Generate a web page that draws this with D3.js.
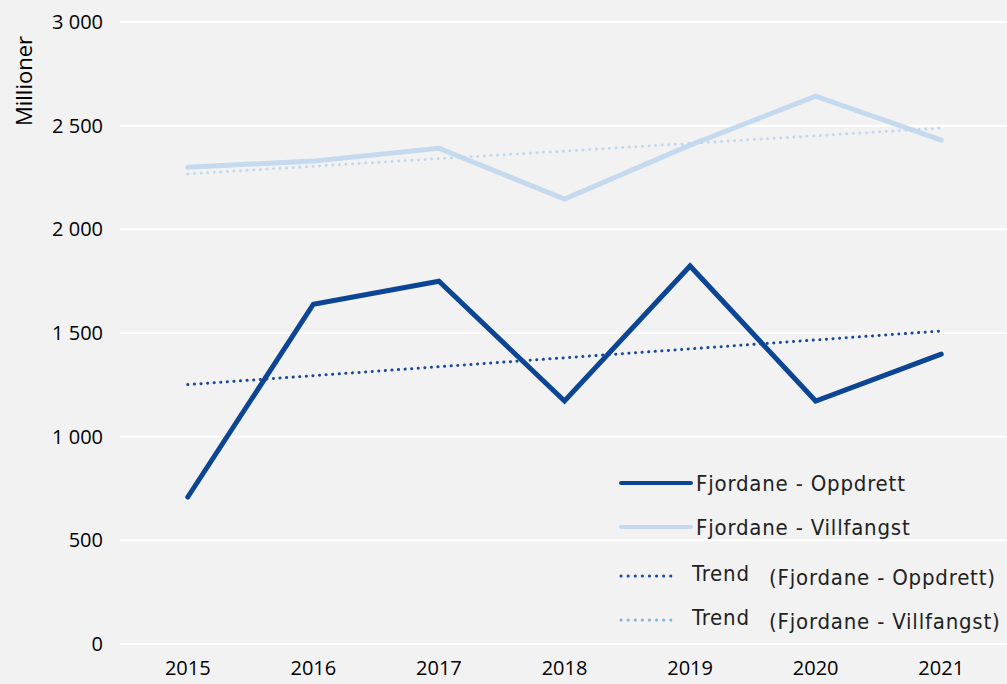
<!DOCTYPE html>
<html>
<head>
<meta charset="utf-8">
<script src="https://cdn.jsdelivr.net/npm/d3@7"></script>
<style>
  body { margin: 0; background: #f2f2f2; }
  #Chart { display: block; background: #f2f2f2; }
  .tick text { font-family: "Open Sans", "Noto Sans", sans-serif; font-size: 20px; fill: #000; }
  .legend text { font-family: "DejaVu Sans", sans-serif; font-stretch: condensed; font-size: 22px; letter-spacing: 0.8px; fill: #222; }
</style>
</head>
<body>
<svg id="Chart"></svg>
<script>
// data
let years = ["2015", "2016", "2017", "2018", "2019", "2020", "2021"];
let oppdrett = [709, 1639, 1750, 1172, 1823, 1172, 1398];
let villfangst = [2300, 2329, 2391, 2146, 2406, 2642, 2430];
let yTicks = [0, 500, 1000, 1500, 2000, 2500, 3000];
let seriesNames = ["Fjordane - Oppdrett", "Fjordane - Villfangst"];

function getConfig() {
  let width = 1007, height = 684;
  let margin = { top: 22, bottom: 40, left: 125, right: 3 };
  let container = d3.select("#Chart").attr("width", width).attr("height", height);
  return { width, height, margin, container };
}

// least squares trend, the way a spreadsheet trendline works
function trendOf(values) {
  let n = values.length;
  let xm = (n - 1) / 2;
  let ym = d3.mean(values);
  let sxy = d3.sum(values, (v, i) => (i - xm) * (v - ym));
  let sxx = d3.sum(values, (v, i) => (i - xm) * (i - xm));
  let slope = sxy / sxx;
  return values.map((v, i) => ym + slope * (i - xm));
}

function drawChart() {
  let { width, height, margin, container } = getConfig();

  let xScale = d3.scaleBand()
    .domain(years)
    .range([margin.left, width - margin.right]);
  let yScale = d3.scaleLinear()
    .domain([0, 3000])
    .range([height - margin.bottom, margin.top]);
  let xc = d => xScale(d) + xScale.bandwidth() / 2;

  // gridlines
  container.append("g")
    .selectAll("line")
    .data(yTicks)
    .enter().append("line")
    .attr("x1", 120).attr("x2", width)
    .attr("y1", d => yScale(d)).attr("y2", d => yScale(d))
    .attr("stroke", "#ffffff")
    .attr("stroke-width", 2);

  let axisY = d3.axisLeft(yScale)
    .tickValues(yTicks)
    .tickSize(0)
    .tickPadding(0)
    .tickFormat(d => d3.format(",")(d).replace(",", " "));
  container.append("g")
    .attr("transform", `translate(103,0)`)
    .call(axisY)
    .call(g => g.select(".domain").remove());

  let axisX = d3.axisBottom(xScale).tickSize(0).tickPadding(0);
  container.append("g")
    .attr("transform", `translate(0,${height - 23})`)
    .call(axisX)
    .call(g => g.select(".domain").remove());

  container.append("text")
    .attr("transform", "translate(32,81) rotate(-90)")
    .attr("text-anchor", "middle")
    .attr("font-family", "Open Sans, Noto Sans, sans-serif")
    .attr("font-size", 22)
    .text("Millioner");

  let line = d3.line().x((d, i) => xc(years[i])).y(d => yScale(d));

  let series = [
    { values: villfangst, color: "#c5d9ef", width: 5, dash: null },
    { values: trendOf(villfangst), color: "#c3d8ee", width: 3, dash: "0.1 6.5" },
    { values: oppdrett, color: "#0b4594", width: 5, dash: null },
    { values: trendOf(oppdrett), color: "#17479a", width: 3, dash: "0.1 6.5" }
  ];

  container.append("g")
    .selectAll("path")
    .data(series)
    .enter().append("path")
    .attr("d", d => line(d.values))
    .attr("fill", "none")
    .attr("stroke", d => d.color)
    .attr("stroke-width", d => d.width)
    .attr("stroke-linecap", "round")
    .attr("stroke-linejoin", "miter")
    .attr("stroke-dasharray", d => d.dash);

  drawLegend(container);
}

function drawLegend(container) {
  let items = [
    { y: 483, color: "#0b4594", dash: null, w: 4, len: 70, label: seriesNames[0] },
    { y: 527, color: "#c5d9ef", dash: null, w: 4, len: 70, label: seriesNames[1] },
    { y: 576, color: "#17479a", dash: "0.1 7", w: 3, len: 50, trend: "(" + seriesNames[0] + ")" },
    { y: 620, color: "#7fb3df", dash: "0.1 7", w: 3, len: 50, trend: "(" + seriesNames[1] + ")" }
  ];
  let legend = container.append("g").attr("class", "legend");
  let row = legend.selectAll("g").data(items).enter().append("g");

  row.append("line")
    .attr("x1", 621).attr("x2", d => 621 + d.len)
    .attr("y1", d => d.y).attr("y2", d => d.y)
    .attr("stroke", d => d.color)
    .attr("stroke-width", d => d.w)
    .attr("stroke-linecap", "round")
    .attr("stroke-dasharray", d => d.dash);

  row.filter(d => d.label).append("text")
    .attr("x", 696).attr("y", d => d.y + 8)
    .text(d => d.label);
  row.filter(d => d.trend).append("text")
    .attr("x", 692).attr("y", d => d.y + 5)
    .text("Trend");
  row.filter(d => d.trend).append("text")
    .attr("x", 769).attr("y", d => d.y + 9)
    .text(d => d.trend);
}

drawChart();
</script>
</body>
</html>
